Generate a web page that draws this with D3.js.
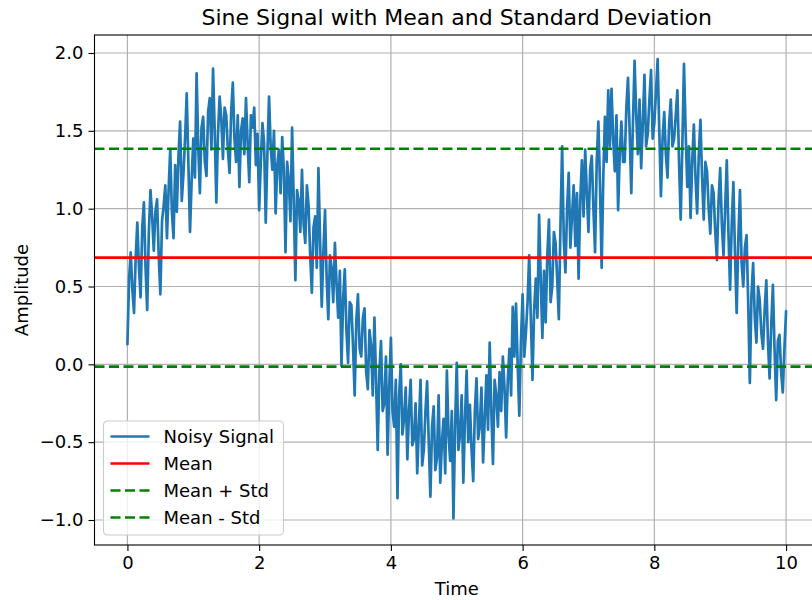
<!DOCTYPE html>
<html>
<head>
<meta charset="utf-8">
<script src="https://cdn.jsdelivr.net/npm/d3@7"></script>
<style>
  body { margin: 0; background: #fff; }
  svg { display: block; font-family: "DejaVu Sans", sans-serif; }
</style>
</head>
<body>
<svg id="chartSvg"></svg>
<script>
"use strict";

// values (one value every 0.025 s)
let timeValues = d3.range(0, 401).map(i => +(i * 0.025).toFixed(3));
let signalValues = [
  0.13, 0.55, 0.72, 0.48, 0.33, 0.68, 0.91, 0.62, 0.43, 0.88, 1.04, 0.62, 0.35, 0.85, 1.12, 0.95, 0.73, 0.98, 1.06, 0.70,
  0.45, 0.92, 1.02, 1.15, 0.81, 1.12, 1.38, 0.98, 0.81, 1.28, 0.98, 1.34, 1.56, 1.05, 1.22, 1.45, 1.74, 1.30, 0.85, 1.18,
  1.45, 1.20, 1.87, 1.40, 1.10, 1.52, 1.59, 1.30, 1.21, 1.62, 1.71, 1.38, 1.90, 1.50, 1.04, 1.48, 1.72, 1.58, 1.32, 1.65,
  1.60, 1.38, 1.23, 1.62, 1.81, 1.45, 1.30, 1.60, 1.14, 1.50, 1.58, 1.35, 1.71, 1.42, 1.17, 1.60, 1.52, 1.65, 1.28, 1.48,
  0.99, 1.30, 1.55, 1.42, 0.91, 1.35, 1.72, 1.40, 1.25, 1.50, 0.97, 1.28, 1.38, 1.10, 1.46, 1.25, 0.72, 1.30, 1.18, 0.92,
  1.52, 1.05, 0.54, 1.12, 1.05, 0.85, 1.25, 0.90, 0.78, 1.15, 1.02, 0.70, 0.46, 0.88, 0.95, 0.62, 1.26, 0.80, 0.37, 0.72,
  0.99, 0.55, 0.29, 0.70, 0.62, 0.40, 0.78, 0.52, 0.30, 0.60, -0.01, 0.42, 0.61, 0.22, 0.01, 0.40, 0.38, 0.12, -0.20, 0.28,
  0.45, 0.10, 0.05, 0.30, 0.36, -0.05, -0.16, 0.22, 0.12, -0.20, 0.30, -0.10, -0.55, -0.05, 0.15, -0.30, -0.25, 0.05, -0.58, -0.15,
  0.17, -0.30, -0.40, -0.10, -0.86, -0.20, 0.00, -0.45, -0.35, -0.15, -0.61, -0.30, -0.10, -0.52, -0.48, -0.25, -0.70, -0.40, -0.10, -0.65,
  -0.55, -0.30, -0.11, -0.50, -0.85, -0.40, -0.27, -0.68, -0.60, -0.20, -0.76, -0.50, -0.35, -0.70, -0.04, -0.45, -0.62, -0.30, -0.99, -0.40,
  0.01, -0.55, -0.45, -0.20, -0.76, -0.35, -0.04, -0.50, -0.26, -0.55, -0.75, -0.30, -0.09, -0.48, -0.40, -0.15, -0.63, -0.35, -0.07, -0.42,
  0.14, -0.30, -0.64, -0.10, -0.20, -0.40, -0.05, -0.30, 0.05, -0.15, -0.47, -0.10, 0.10, -0.20, 0.37, 0.05, 0.39, 0.00, -0.33, 0.15,
  0.45, 0.05, 0.20, 0.40, 0.70, 0.30, -0.10, 0.35, 0.55, 0.30, 0.96, 0.55, 0.17, 0.60, 0.27, 0.70, 0.93, 0.40, 0.50, 0.85,
  0.78, 0.55, 0.29, 0.90, 1.40, 0.80, 0.59, 1.00, 1.23, 0.75, 0.95, 1.15, 0.76, 1.10, 0.55, 1.05, 1.31, 0.95, 1.38, 1.10,
  0.85, 1.25, 1.34, 1.00, 0.72, 1.30, 1.56, 1.15, 0.62, 1.20, 1.59, 1.30, 1.76, 1.40, 1.77, 1.45, 1.24, 1.60, 0.99, 1.35,
  1.56, 1.30, 1.30, 1.65, 1.84, 1.50, 1.10, 1.55, 1.95, 1.60, 1.35, 1.70, 1.26, 1.55, 1.86, 1.40, 1.48, 1.70, 1.89, 1.45,
  1.55, 1.75, 1.96, 1.50, 1.08, 1.45, 1.62, 1.35, 1.20, 1.55, 1.70, 1.40, 1.45, 1.60, 1.76, 1.30, 0.93, 1.40, 1.93, 1.50,
  1.14, 1.40, 0.94, 1.30, 1.54, 1.20, 0.97, 1.35, 1.57, 1.20, 0.93, 1.30, 1.24, 1.00, 0.84, 1.15, 1.10, 0.85, 0.67, 1.05,
  1.26, 0.90, 0.70, 1.00, 1.31, 0.85, 0.48, 0.90, 1.17, 0.70, 0.33, 0.80, 1.12, 0.65, 0.50, 0.75, 0.83, 0.40, -0.12, 0.45,
  0.65, 0.30, 0.14, 0.50, 0.41, 0.20, 0.10, 0.35, 0.54, 0.15, -0.09, 0.25, 0.51, 0.10, -0.23, 0.15, 0.19, -0.05, -0.18, 0.10,
  0.34
];
let meanValue = 0.685;
let stdValue = 0.70;
let xTicks = [0, 2, 4, 6, 8, 10];
let yTicks = [-1.0, -0.5, 0.0, 0.5, 1.0, 1.5, 2.0];
let legendLabels = ["Noisy Signal", "Mean", "Mean + Std", "Mean - Std"];

let width = 812, height = 600;
let plot = {left: 94.5, right: 819, top: 35, bottom: 545};

let xScale = d3.scaleLinear().domain([-0.5, 10.5]).range([plot.left, plot.right]);
let yScale = d3.scaleLinear().domain([-1.1606, 2.1156]).range([plot.bottom, plot.top]);

let fmtY = d => d3.format(".1f")(d).replace("-", "\u2212");

let svg = d3.select("#chartSvg")
  .attr("width", width)
  .attr("height", height);

svg.append("rect").attr("width", width).attr("height", height).attr("fill", "#fff");

svg.append("clipPath").attr("id", "plotClip")
  .append("rect")
  .attr("x", plot.left).attr("y", plot.top)
  .attr("width", plot.right - plot.left).attr("height", plot.bottom - plot.top);

// grid
let grid = svg.append("g").attr("stroke", "#b0b0b0").attr("stroke-width", 1.2);
grid.selectAll(".gx").data(xTicks).join("line")
  .attr("x1", d => xScale(d)).attr("x2", d => xScale(d))
  .attr("y1", plot.top).attr("y2", plot.bottom);
grid.selectAll(".gy").data(yTicks).join("line")
  .attr("x1", plot.left).attr("x2", plot.right)
  .attr("y1", d => yScale(d)).attr("y2", d => yScale(d));

let layer = svg.append("g").attr("clip-path", "url(#plotClip)");

// noisy signal
let line = d3.line()
  .x((d, i) => xScale(timeValues[i]))
  .y(d => yScale(d));

layer.append("path")
  .datum(signalValues)
  .attr("fill", "none")
  .attr("stroke", "#1f77b4")
  .attr("stroke-width", 2.7)
  .attr("stroke-linejoin", "round")
  .attr("stroke-linecap", "round")
  .attr("d", line);

// mean and std lines
let refLines = [
  {v: meanValue, color: "red", dash: null},
  {v: meanValue + stdValue, color: "green", dash: "10,4.5"},
  {v: meanValue - stdValue, color: "green", dash: "10,4.5"}
];
layer.selectAll(".ref").data(refLines).join("line")
  .attr("x1", plot.left).attr("x2", plot.right)
  .attr("y1", d => yScale(d.v)).attr("y2", d => yScale(d.v))
  .attr("stroke", d => d.color)
  .attr("stroke-width", 2.7)
  .attr("stroke-dasharray", d => d.dash);

// axes
let xAxis = svg.append("g")
  .attr("transform", `translate(0,${plot.bottom})`)
  .call(d3.axisBottom(xScale).tickValues(xTicks).tickSize(6).tickPadding(5).tickFormat(d3.format("d")));
let yAxis = svg.append("g")
  .attr("transform", `translate(${plot.left},0)`)
  .call(d3.axisLeft(yScale).tickValues(yTicks).tickSize(6).tickPadding(5).tickFormat(fmtY));

[xAxis, yAxis].forEach(ax => {
  ax.select(".domain").remove();
  ax.selectAll("line").attr("stroke", "#000").attr("stroke-width", 1.1);
  ax.selectAll("text").attr("font-size", 18).attr("fill", "#000")
    .attr("font-family", "DejaVu Sans");
});

// spines
let spine = svg.append("g").attr("stroke", "#000").attr("stroke-width", 1.1).attr("fill", "none");
spine.append("rect")
  .attr("x", plot.left).attr("y", plot.top)
  .attr("width", plot.right - plot.left).attr("height", plot.bottom - plot.top);

// title and labels
svg.append("text")
  .attr("x", (plot.left + plot.right) / 2).attr("y", 25)
  .attr("text-anchor", "middle").attr("font-size", 22)
  .text("Sine Signal with Mean and Standard Deviation");

svg.append("text")
  .attr("x", (plot.left + plot.right) / 2).attr("y", 595)
  .attr("text-anchor", "middle").attr("font-size", 18)
  .text("Time");

svg.append("text")
  .attr("transform", `translate(28,${(plot.top + plot.bottom) / 2}) rotate(-90)`)
  .attr("text-anchor", "middle").attr("font-size", 18)
  .text("Amplitude");

// legend
let legend = svg.append("g").attr("transform", "translate(103.5,421)");
legend.append("rect")
  .attr("width", 180).attr("height", 114).attr("rx", 4)
  .attr("fill", "#fff").attr("fill-opacity", 0.8)
  .attr("stroke", "#cccccc").attr("stroke-width", 1.1);

let legendStyles = [
  {color: "#1f77b4", dash: null},
  {color: "red", dash: null},
  {color: "green", dash: "10,4.5"},
  {color: "green", dash: "10,4.5"}
];
let rows = legend.selectAll(".row").data(legendLabels).join("g")
  .attr("transform", (d, i) => `translate(0,${15.5 + i * 27})`);
rows.append("line")
  .attr("x1", 7).attr("x2", 46)
  .attr("stroke", (d, i) => legendStyles[i].color)
  .attr("stroke-width", 2.7)
  .attr("stroke-dasharray", (d, i) => legendStyles[i].dash);
rows.append("text")
  .attr("x", 60).attr("dy", "0.35em")
  .attr("font-size", 18)
  .text(d => d);
</script>
</body>
</html>
